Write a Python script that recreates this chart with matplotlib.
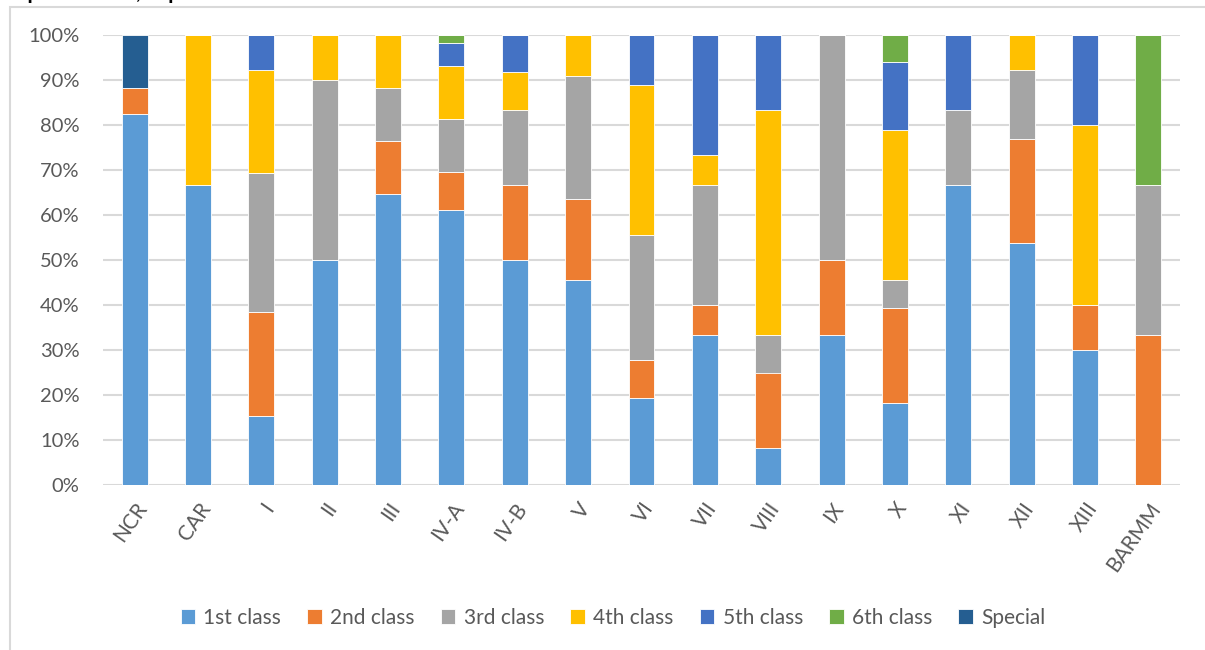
import numpy as np
import matplotlib
matplotlib.use("Agg")
from matplotlib import pyplot as plt
from matplotlib.patches import Rectangle
from matplotlib.ticker import PercentFormatter

regions = ["NCR", "CAR", "I", "II", "III", "IV-A", "IV-B", "V", "VI", "VII",
           "VIII", "IX", "X", "XI", "XII", "XIII", "BARMM"]

# share of cities per income class, in percent
first_class = [82.35, 66.67, 15.38, 50.0, 64.71, 61.02, 50.0, 45.45, 19.44, 33.33,
               8.33, 33.33, 18.18, 66.67, 53.85, 30.0, 0.0]
second_class = [5.88, 0.0, 23.08, 0.0, 11.76, 8.47, 16.67, 18.18, 8.33, 6.67,
                16.67, 16.67, 21.21, 0.0, 23.08, 10.0, 33.33]
third_class = [0.0, 0.0, 30.77, 40.0, 11.76, 11.86, 16.67, 27.27, 27.78, 26.67,
               8.33, 50.0, 6.06, 16.67, 15.38, 0.0, 33.33]
fourth_class = [0.0, 33.33, 23.08, 10.0, 11.76, 11.86, 8.33, 9.09, 33.33, 6.67,
                50.0, 0.0, 33.33, 0.0, 7.69, 40.0, 0.0]
fifth_class = [0.0, 0.0, 7.69, 0.0, 0.0, 5.08, 8.33, 0.0, 11.11, 26.67,
               16.67, 0.0, 15.15, 16.67, 0.0, 20.0, 0.0]
sixth_class = [0.0, 0.0, 0.0, 0.0, 0.0, 1.69, 0.0, 0.0, 0.0, 0.0,
               0.0, 0.0, 6.06, 0.0, 0.0, 0.0, 33.33]
special = [11.76, 0.0, 0.0, 0.0, 0.0, 0.0, 0.0, 0.0, 0.0, 0.0,
           0.0, 0.0, 0.0, 0.0, 0.0, 0.0, 0.0]

series_names = ["1st class", "2nd class", "3rd class", "4th class",
                "5th class", "6th class", "Special"]
series = [first_class, second_class, third_class, fourth_class,
          fifth_class, sixth_class, special]
colors = ["#5B9BD5", "#ED7D31", "#A5A5A5", "#FFC000", "#4472C4", "#70AD47", "#255E91"]

plt.rcParams['font.family'] = ['Lato', 'DejaVu Sans']
text_color = "#595959"

fig = plt.figure(figsize=(12.05, 6.5), dpi=100)
ax = fig.add_axes([103 / 1205, 1 - 485 / 650, (1180 - 103) / 1205, 450 / 650])

x = np.arange(len(regions))
bottom = np.zeros(len(regions))
for name, vals, col in zip(series_names, series, colors):
    vals = np.array(vals) / 100.0
    ax.bar(x, vals, width=0.41, bottom=bottom, color=col, label=name,
           edgecolor="white", linewidth=0.6, zorder=3)
    bottom += vals

ax.set_xlim(-0.5, len(regions) - 0.5)
ax.set_ylim(0, 1)
ax.set_yticks(np.arange(0, 1.01, 0.1))
ax.yaxis.set_major_formatter(PercentFormatter(1.0, decimals=0))
ax.grid(axis="y", color="#d9d9d9", linewidth=1.5, zorder=0)
ax.set_axisbelow(True)
for s in ax.spines.values():
    s.set_visible(False)
ax.tick_params(axis="both", length=0, labelsize=14.5, colors=text_color)
ax.tick_params(axis="y", pad=17)
ax.set_xticks(x)
ax.set_xticklabels(regions, rotation=55, ha="right", rotation_mode="anchor",
                   fontsize=15)
ax.tick_params(axis="x", pad=10)

ax.legend(loc="center", bbox_to_anchor=(0.5 + (613 - 641.5) / 1077, (485 - 618) / 450),
          ncol=7, frameon=False, fontsize=15, handlelength=0.7, handleheight=0.7,
          handletextpad=0.4, columnspacing=1.25, labelcolor=text_color)

# chart border (only left and top edges fall inside the picture)
fig.patches.append(Rectangle((9.5 / 1205, -0.1), 1.2, 1 - 6.5 / 650 + 0.1,
                             transform=fig.transFigure, fill=False,
                             edgecolor="#d9d9d9", linewidth=1.5))

# page title above the chart, cut off at the top: only its descenders show
fig.text(16 / 1205, 1 + 1 / 650, "Split of cities, in provinces",
         fontsize=15, fontweight="bold", color="black", va="baseline")

fig.savefig("out.png", dpi=100)
